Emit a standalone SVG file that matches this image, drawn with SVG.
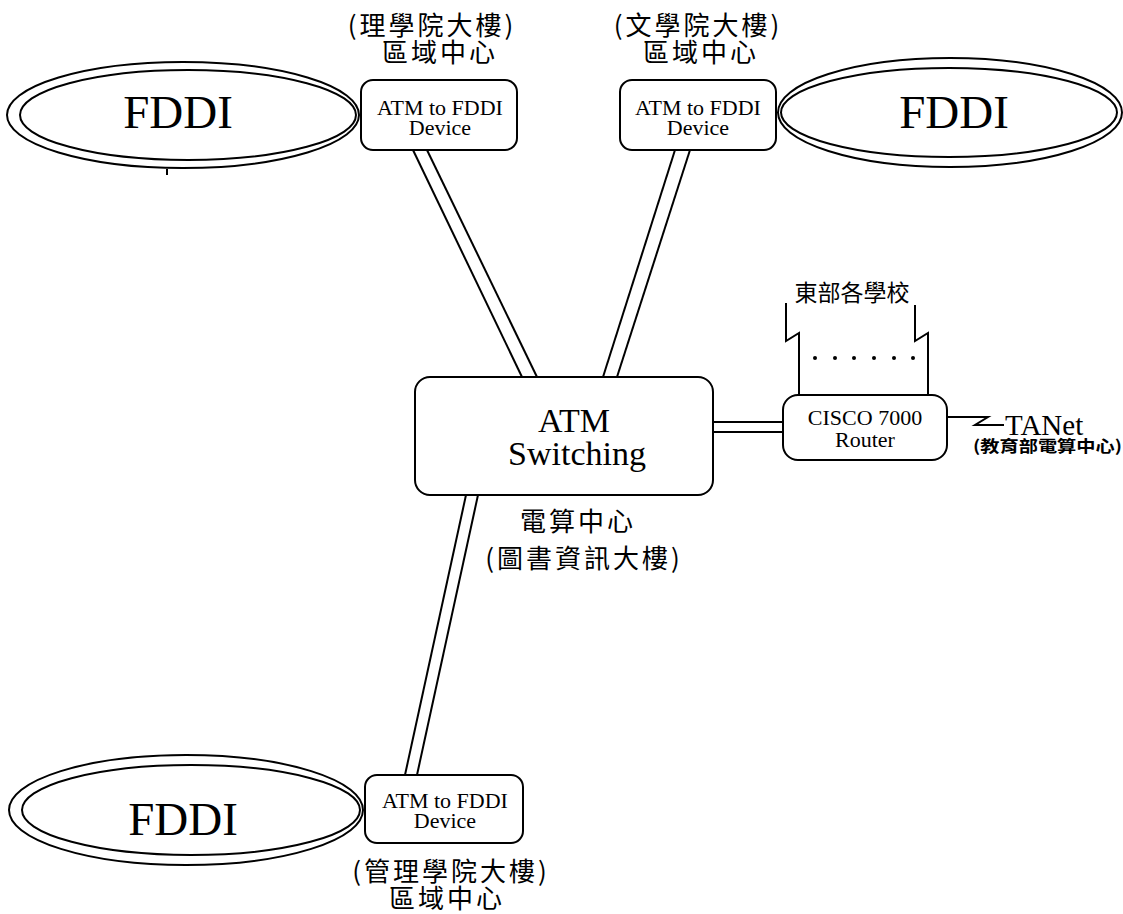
<svg xmlns="http://www.w3.org/2000/svg" width="1123" height="914" viewBox="0 0 1123 914">
<style>
.ln{fill:none;stroke:#000;stroke-width:2}
.box{fill:#fff;stroke:#000;stroke-width:2}
.ring{fill:none;stroke:#000;stroke-width:2}
.en{font-family:'Times New Roman','Liberation Serif',serif;fill:#000;text-anchor:middle}
.cjk{font-family:'Noto Sans CJK TC','Noto Sans CJK SC',sans-serif;fill:#000;text-anchor:middle}
.lab{font-size:26px;letter-spacing:3px}
</style>
<rect width="1123" height="914" fill="#fff"/>
<g id="connectors">
<line class="ln" x1="413" y1="150" x2="522" y2="377"/>
<line class="ln" x1="427" y1="150" x2="537" y2="377"/>
<line class="ln" x1="675" y1="150" x2="603" y2="377"/>
<line class="ln" x1="690" y1="150" x2="617" y2="377"/>
<line class="ln" x1="466" y1="495" x2="405" y2="775"/>
<line class="ln" x1="478" y1="495" x2="417" y2="775"/>
<line class="ln" x1="713" y1="422" x2="783" y2="422"/>
<line class="ln" x1="713" y1="432" x2="783" y2="432"/>
<path class="ln" d="M786,303 V341 L799,333 V395"/>
<path class="ln" d="M915,305 V341 L928,333 V395"/>
<path class="ln" d="M947,417 H988 L975,425 H1004"/>
<line class="ln" x1="167" y1="169" x2="167" y2="175"/>
</g>
<g id="fddi-left">
<ellipse class="ring" cx="183" cy="115" rx="176" ry="53"/>
<ellipse class="ring" cx="188" cy="115" rx="168" ry="45"/>
<text class="en" x="178" y="128" font-size="47">FDDI</text>
</g>
<g id="fddi-right">
<ellipse class="ring" cx="950" cy="112.5" rx="172" ry="54.5"/>
<ellipse class="ring" cx="949" cy="112.5" rx="168" ry="44.5"/>
<text class="en" x="954" y="128" font-size="47">FDDI</text>
</g>
<g id="fddi-bottom">
<ellipse class="ring" cx="186" cy="810" rx="177" ry="55"/>
<ellipse class="ring" cx="191" cy="810" rx="169" ry="45"/>
<text class="en" x="183" y="835" font-size="47">FDDI</text>
</g>
<g id="device-science">
<text class="cjk lab" x="432" y="35">(理學院大樓)</text>
<text class="cjk lab" x="440" y="62">區域中心</text>
<rect class="box" x="361" y="80" width="156" height="70" rx="12"/>
<text class="en" x="440" y="115" font-size="22">ATM to FDDI</text>
<text class="en" x="440" y="135" font-size="22">Device</text>
</g>
<g id="device-arts">
<text class="cjk lab" x="698" y="35">(文學院大樓)</text>
<text class="cjk lab" x="701" y="62">區域中心</text>
<rect class="box" x="620" y="80" width="156" height="70" rx="12"/>
<text class="en" x="698" y="115" font-size="22">ATM to FDDI</text>
<text class="en" x="698" y="135" font-size="22">Device</text>
</g>
<g id="device-management">
<rect class="box" x="365" y="775" width="158" height="68" rx="12"/>
<text class="en" x="445" y="808" font-size="22">ATM to FDDI</text>
<text class="en" x="445" y="828" font-size="22">Device</text>
<text class="cjk lab" x="451" y="881">(管理學院大樓)</text>
<text class="cjk lab" x="447" y="908">區域中心</text>
</g>
<g id="atm-switch">
<rect class="box" x="415" y="377" width="298" height="118" rx="15"/>
<text class="en" x="574" y="432" font-size="34">ATM</text>
<text class="en" x="577" y="465" font-size="34">Switching</text>
<text class="cjk lab" x="578" y="531">電算中心</text>
<text class="cjk lab" x="584" y="568">(圖書資訊大樓)</text>
</g>
<g id="router">
<rect class="box" x="783" y="395" width="164" height="65" rx="15"/>
<text class="en" x="865" y="425" font-size="22">CISCO 7000</text>
<text class="en" x="865" y="447" font-size="22">Router</text>
</g>
<g id="east-schools">
<text class="cjk" x="852" y="301" font-size="23">東部各學校</text>
<circle cx="815" cy="358" r="2"/>
<circle cx="835" cy="358" r="2"/>
<circle cx="854" cy="358" r="2"/>
<circle cx="874" cy="358" r="2"/>
<circle cx="894" cy="358" r="2"/>
<circle cx="913" cy="358" r="2"/>
</g>
<g id="tanet">
<text class="en" style="text-anchor:start" x="1005" y="435" font-size="29">TANet</text>
<text class="cjk" x="973" y="452" font-size="16" font-weight="bold" style="text-anchor:start" textLength="149" lengthAdjust="spacingAndGlyphs">(教育部電算中心)</text>
</g>
</svg>
